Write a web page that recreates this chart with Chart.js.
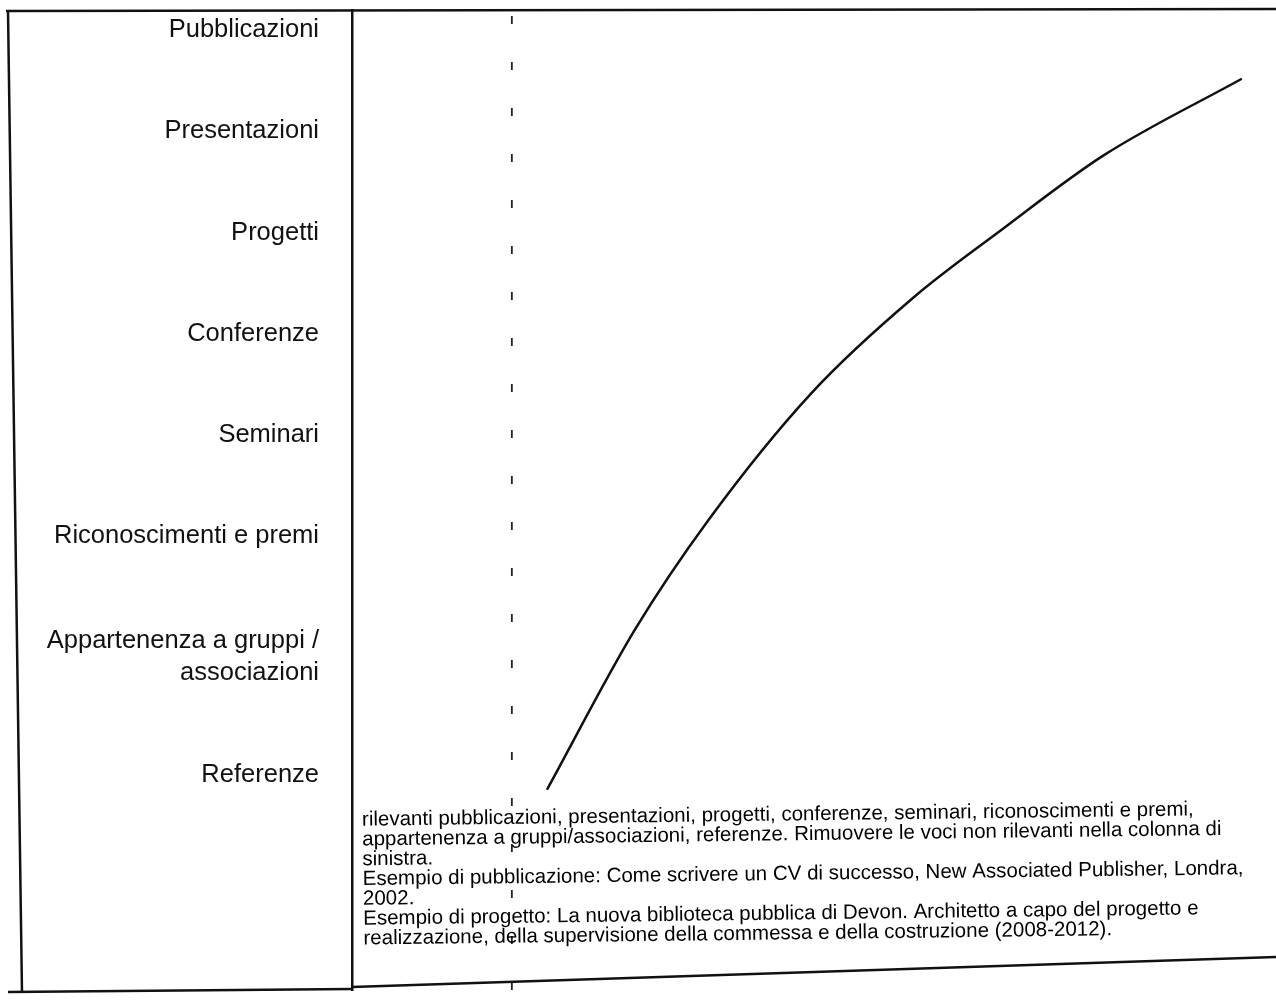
<!DOCTYPE html>
<html>
<head>
<meta charset="utf-8">
<script src="https://cdn.jsdelivr.net/npm/chart.js@4"></script>
<style>
  html, body { margin: 0; padding: 0; background: #fff; }
  #wrap { width: 1276px; height: 1004px; }
</style>
</head>
<body>
<div id="wrap"><canvas id="cvChart" width="1276" height="1004"></canvas></div>
<script>
// row labels of the left column, bottom to top
const rowLabels = [
  "Referenze",
  ["Appartenenza a gruppi /", "associazioni"],
  "Riconoscimenti e premi",
  "Seminari",
  "Conferenze",
  "Progetti",
  "Presentazioni",
  "Pubblicazioni",
];
// where each row sits on the vertical scale
const rowLevels = [-0.36, 0.8, 2, 3, 4, 5, 6, 7];

// the curve
const curveX = [21.1, 30.6, 38.6, 49.7, 60.8, 70.2, 81.3, 96.3];
const curveY = [-0.51, 1.07, 2.16, 3.41, 4.36, 5.02, 5.76, 6.52];

// dashed vertical guide
const guideX = 17.3;

const noteLines = [
  "rilevanti pubblicazioni, presentazioni, progetti, conferenze, seminari, riconoscimenti e premi,",
  "appartenenza a gruppi/associazioni, referenze. Rimuovere le voci non rilevanti nella colonna di",
  "sinistra.",
  "Esempio di pubblicazione: Come scrivere un CV di successo, New Associated Publisher, Londra,",
  "2002.",
  "Esempio di progetto: La nuova biblioteca pubblica di Devon. Architetto a capo del progetto e",
  "realizzazione, della supervisione della commessa e della costruzione (2008-2012).",
];

const Y_MIN = -2.49, Y_MAX = 7.2;
const FONT = "'Liberation Sans', Arial, sans-serif";

const framePlugin = {
  id: "frame",
  afterDraw(chart) {
    const c = chart.ctx;
    c.save();
    c.strokeStyle = "#111";
    c.lineWidth = 2.5;
    c.beginPath();
    c.moveTo(6, 11); c.lineTo(1276, 9);        // top
    c.moveTo(8, 11); c.lineTo(22, 993);        // left
    c.moveTo(8, 992); c.lineTo(352, 989);      // bottom left cell
    c.moveTo(352, 987); c.lineTo(1276, 957);   // bottom right cell
    c.stroke();

    // note text in the right cell
    c.fillStyle = "#000";
    c.font = "20.5px " + FONT;
    c.textBaseline = "middle";
    c.translate(362, 820);
    c.rotate(-0.7 * Math.PI / 180);
    noteLines.forEach((t, i) => c.fillText(t, 0, i * 19.8));
    c.restore();
  },
};

const ctx = document.getElementById("cvChart").getContext("2d");

new Chart(ctx, {
  type: "line",
  data: {
    datasets: [
      {
        data: curveX.map((x, i) => ({ x: x, y: curveY[i] })),
        borderColor: "#111",
        borderWidth: 2.5,
        pointRadius: 0,
        cubicInterpolationMode: "monotone",
        fill: false,
      },
      {
        data: [{ x: guideX, y: Y_MIN }, { x: guideX, y: Y_MAX }],
        borderColor: "#222",
        borderWidth: 1.8,
        borderDash: [8, 38],
        pointRadius: 0,
        fill: false,
      },
    ],
  },
  options: {
    responsive: false,
    animation: false,
    devicePixelRatio: 1,
    layout: { padding: { left: 0, right: 0, top: 10, bottom: 14 } },
    plugins: {
      legend: { display: false },
      tooltip: { enabled: false },
    },
    scales: {
      x: {
        type: "linear",
        min: 0,
        max: 100,
        display: false,
      },
      y: {
        type: "linear",
        min: Y_MIN,
        max: Y_MAX,
        afterFit: (s) => {
          s.width = 352;
          s.paddingTop = 0;
          s.paddingBottom = 0;
        },
        afterBuildTicks: (s) => { s.ticks = rowLevels.map((v) => ({ value: v })); },
        grid: { display: false },
        border: { display: true, color: "#111", width: 2.5 },
        ticks: {
          padding: 25,
          color: "#111",
          font: { family: FONT, size: 25.5, lineHeight: 1.25 },
          callback: (v) => rowLabels[rowLevels.indexOf(v)],
        },
      },
    },
  },
  plugins: [framePlugin],
});
</script>
</body>
</html>
